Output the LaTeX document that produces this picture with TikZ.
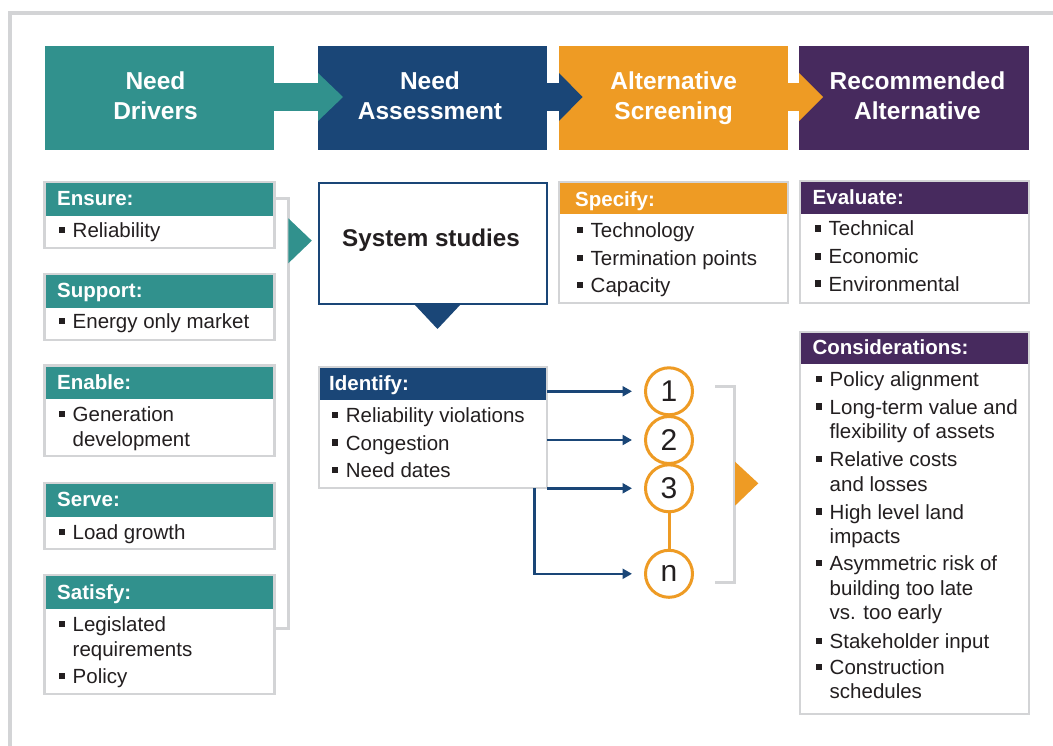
\documentclass[tikz,border=0pt]{standalone}
\usepackage{fontspec}
\setmainfont{Liberation Sans}
\usetikzlibrary{arrows.meta,calc}
\definecolor{cteal}{HTML}{31918D}
\definecolor{cnavy}{HTML}{1A4677}
\definecolor{corange}{HTML}{EE9B24}
\definecolor{cpurple}{HTML}{472A5E}
\definecolor{cgray}{HTML}{D3D4D6}
\definecolor{ctext}{HTML}{231F20}
\newcommand\bsq{\rule[4.3pt]{6.3pt}{6.3pt}\hspace{7.7pt}}
\newcommand\itm[1]{\bsq\begin{tabular}[t]{@{}l@{}}#1\end{tabular}}
\newcommand\ttl[1]{\begin{tabular}[t]{@{}c@{}}#1\end{tabular}}
% #1 name, #2 x1, #3 y1, #4 x2, #5 y2, #6 header bottom, #7 colour
\newcommand\panel[7]{%
  \node[panelbg, minimum width={#4-#2}, minimum height={#5-#3}] (#1) at (#2,#3) {};
  \fill[#7] (#2,#3) rectangle (#4,#6);
  \draw[panelborder] (#1.north west) rectangle (#1.south east);
}
\tikzset{
  hdrbox/.style={anchor=north west, inner sep=0pt, outer sep=0pt, minimum height=104.5},
  ttlf/.style={anchor=base, inner sep=0pt, text=white, font=\fontsize{24.5}{29.5}\selectfont\bfseries},
  panelbg/.style={anchor=north west, inner sep=0pt, outer sep=0pt, fill=white},
  panelborder/.style={draw=cgray, line width=2.5},
  lbl/.style={anchor=base west, inner sep=0pt, text=white, font=\fontsize{20.5}{24.3}\selectfont\bfseries},
  itemtxt/.style={anchor=base west, inner sep=0pt, text=ctext, font=\fontsize{20.5}{24.3}\selectfont},
  numc/.style={circle, draw=corange, line width=3, fill=white, minimum size=47, inner sep=0pt, text=ctext, font=\fontsize{30}{36}\selectfont},
  conn/.style={draw=cnavy, line width=2.5, -{Triangle[length=9.5pt,width=10pt]}},
  bracket/.style={draw=cgray, line width=3},
}
\begin{document}
\begin{tikzpicture}[x=1pt, y=-1pt]
\useasboundingbox (0,0) rectangle (1053,746);
\fill[white] (0,0) rectangle (1053,746);
% frame
\draw[cgray, line width=4] (9.5,746) -- (9.5,13) -- (1053,13);

% header boxes
\node[hdrbox, fill=cteal,   minimum width=228.5] (h1) at (45,46) {};
\node[hdrbox, fill=cnavy,   minimum width=229]   (h2) at (318,46) {};
\node[hdrbox, fill=corange, minimum width=229]   (h3) at (559,46) {};
\node[hdrbox, fill=cpurple, minimum width=229.5] (h4) at (799,46) {};
% header arrows
\fill[cteal] (273,83) rectangle (318.5,111);
\fill[cteal] (318,73) -- (343,97) -- (318,121) -- cycle;
\fill[cnavy] (547,83) rectangle (559.5,111);
\fill[cnavy] (559,73) -- (582.5,97) -- (559,121) -- cycle;
\fill[corange] (788,83) rectangle (799.5,111);
\fill[corange] (799,73) -- (823,97) -- (799,121) -- cycle;
% header titles
\node[ttlf] (h1t) at (155.5,90) {\ttl{Need\\Drivers}};
\node[ttlf] (h2t) at (430,90) {\ttl{Need\\Assessment}};
\node[ttlf] (h3t) at (673.7,90) {\ttl{Alternative\\Screening}};
\node[ttlf] (h4t) at (917.5,90) {\ttl{Recommended\\Alternative}};

% left column bracket and triangle
\draw[bracket] (275.7,198.7) -- (288.3,198.7) -- (288.3,628) -- (275.7,628);
\fill[cteal] (288.3,218.3) -- (311.8,240.7) -- (288.3,263.3) -- cycle;

% left column panels
\panel{pe}{44.5}{182.2}{274.5}{247.8}{216}{cteal}
\node[lbl] (pel) at (57,206) {Ensure:};
\node[itemtxt] (pe1) at (58.5,237.3) {\itm{Reliability}};

\panel{ps}{44.5}{274}{274.5}{339.8}{307.7}{cteal}
\node[lbl] (psl) at (57,297.7) {Support:};
\node[itemtxt] (ps1) at (58.5,328.3) {\itm{Energy only market}};

\panel{pn}{44.5}{365.5}{274.5}{456}{399}{cteal}
\node[lbl] (pnl) at (57,389.3) {Enable:};
\node[itemtxt] (pn1) at (58.5,421.7) {\itm{Generation\\development}};

\panel{pv}{44.5}{483.2}{274.5}{548.8}{517}{cteal}
\node[lbl] (pvl) at (57,506.7) {Serve:};
\node[itemtxt] (pv1) at (58.5,539.3) {\itm{Load growth}};

\panel{pt}{44.5}{575.2}{274.5}{693.8}{609}{cteal}
\node[lbl] (ptl) at (57,599.3) {Satisfy:};
\node[itemtxt] (pt1) at (58.5,631.7) {\itm{Legislated\\requirements}};
\node[itemtxt] (pt2) at (58.5,683.3) {\itm{Policy}};

% system studies
\node[anchor=north west, draw=cnavy, line width=2.5, fill=white, inner sep=0pt, outer sep=0pt,
      minimum width=227.6, minimum height=121] (sys) at (319.2,183) {};
\node[anchor=base, inner sep=0pt, text=ctext, font=\fontsize{24.2}{29}\selectfont\bfseries] (syst) at (431,246.5) {System studies};
\fill[cnavy] (414,304) -- (461,304) -- (437.5,329) -- cycle;

% identify panel
\panel{idf}{319}{367}{547}{488}{400}{cnavy}
\node[lbl] (idfl) at (329,390.7) {Identify:};
\node[itemtxt] (idf1) at (331.7,422.7) {\itm{Reliability violations}};
\node[itemtxt] (idf2) at (331.7,450) {\itm{Congestion}};
\node[itemtxt] (idf3) at (331.7,477.3) {\itm{Need dates}};

% circles
\node[numc] (c1) at (669,391.3) {1};
\node[numc] (c2) at (669,440) {2};
\node[numc] (c3) at (669,488.3) {3};
\node[numc] (cn) at (669,573.8) {n};
\draw[corange, line width=3] (c3) -- (cn);

% arrows to circles
\draw[conn] (idf.east |- c1) -- ($(c1.west)+(-12,0)$);
\draw[conn] (idf.east |- c2) -- ($(c2.west)+(-12,0)$);
\draw[conn] (idf.east |- c3) -- ($(c3.west)+(-12,0)$);
\draw[conn] ($(idf.south east)+(-12.5,0)$) |- ($(cn.west)+(-12,0)$);

% right bracket and triangle
\draw[bracket] (715,386) -- (734,386) -- (734,582) -- (715,582);
\fill[corange] (735,461.7) -- (758.3,483.3) -- (735,505.7) -- cycle;

% specify
\panel{spc}{559.2}{182.2}{787.8}{302.8}{214.3}{corange}
\node[lbl] (spcl) at (575,206.5) {Specify:};
\node[itemtxt] (spc1) at (576.5,237.3) {\itm{Technology}};
\node[itemtxt] (spc2) at (576.5,265.7) {\itm{Termination points}};
\node[itemtxt] (spc3) at (576.5,292.7) {\itm{Capacity}};

% evaluate
\panel{evl}{800.2}{181.2}{1028.8}{302.8}{214}{cpurple}
\node[lbl] (evll) at (812.5,205) {Evaluate:};
\node[itemtxt] (evl1) at (814.5,236) {\itm{Technical}};
\node[itemtxt] (evl2) at (814.5,264) {\itm{Economic}};
\node[itemtxt] (evl3) at (814.5,291) {\itm{Environmental}};

% considerations
\panel{cns}{800.2}{332.2}{1028.8}{713.8}{364.3}{cpurple}
\node[lbl] (cnsl) at (812.3,355) {Considerations:};
\node[itemtxt] (cns1) at (815.5,386.7) {\itm{Policy alignment}};
\node[itemtxt] (cns2) at (815.5,414) {\itm{Long-term value and\\flexibility of assets}};
\node[itemtxt] (cns3) at (815.5,466.7) {\itm{Relative costs\\and losses}};
\node[itemtxt] (cns4) at (815.5,519) {\itm{High level land\\impacts}};
\node[itemtxt] (cns5) at (815.5,570.7) {\itm{Asymmetric risk of\\building too late\\vs. too early}};
\node[itemtxt] (cns6) at (815.5,648.3) {\itm{Stakeholder input}};
\node[itemtxt] (cns7) at (815.5,674.3) {\itm{Construction\\schedules}};
\end{tikzpicture}
\end{document}
